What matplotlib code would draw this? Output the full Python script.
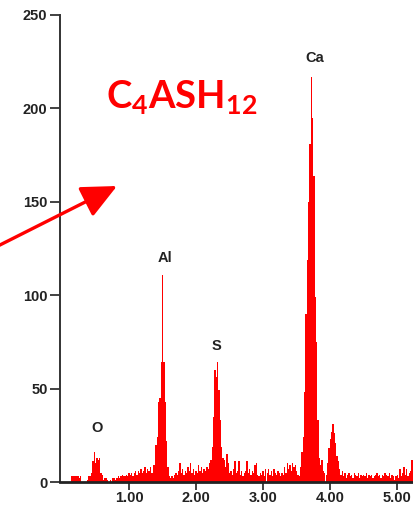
import numpy as np
import matplotlib
matplotlib.use("Agg")
import matplotlib.pyplot as plt

# EDS spectrum: counts per 20 eV channel, first channel centred at 0.14 keV
channel_start = 0.14
channel_width = 0.02
counts = [
    3, 3, 3, 3, 3, 3, 2, 3, 0, 0,
    0, 0, 1, 3, 3, 5, 11, 16, 10, 13,
    12, 13, 5, 4, 1, 2, 2, 1, 0, 1,
    0, 2, 2, 1, 2, 3, 2, 3, 4, 3,
    3, 4, 3, 5, 4, 5, 3, 5, 6, 4,
    6, 5, 7, 5, 6, 8, 5, 7, 6, 8,
    5, 9, 9, 20, 24, 43, 45, 64, 111, 64,
    43, 22, 8, 3, 2, 3, 2, 4, 5, 4,
    6, 10, 5, 7, 4, 6, 5, 8, 6, 10,
    5, 7, 4, 6, 5, 9, 6, 8, 5, 7,
    6, 8, 7, 10, 12, 19, 35, 60, 56, 64,
    49, 33, 19, 13, 12, 8, 15, 10, 5, 6,
    4, 7, 11, 5, 6, 11, 4, 6, 3, 5,
    6, 11, 5, 7, 4, 6, 5, 9, 10, 4,
    3, 5, 4, 6, 3, 7, 5, 7, 4, 6,
    3, 7, 5, 4, 6, 5, 3, 5, 4, 8,
    5, 10, 7, 9, 6, 10, 8, 9, 6, 4,
    3, 8, 16, 24, 48, 90, 119, 150, 181, 217,
    195, 164, 99, 75, 33, 13, 9, 12, 6, 5,
    4, 10, 18, 23, 27, 31, 26, 21, 14, 11,
    7, 4, 6, 3, 5, 2, 4, 5, 3, 4,
    2, 5, 4, 3, 5, 2, 4, 3, 4, 3,
    5, 2, 4, 3, 4, 2, 3, 4, 5, 3,
    4, 2, 4, 3, 5, 4, 3, 5, 2, 4,
    3, 1, 3, 4, 2, 7, 3, 5, 8, 4,
    7, 3, 5, 6, 12, 8,
]
energies = channel_start + channel_width * np.arange(len(counts))

# element line labels (keV position, label height in counts)
element_names = ["O", "Al", "S", "Ca"]
element_kev = [0.52, 1.53, 2.31, 3.77]
element_label_y = [29, 120, 73, 227]

x_ticks = [1.0, 2.0, 3.0, 4.0, 5.0]
x_tick_labels = ["1.00", "2.00", "3.00", "4.00", "5.00"]
y_ticks = [0, 50, 100, 150, 200, 250]

W, H = 414, 508
fig = plt.figure(figsize=(W / 100, H / 100), dpi=100)
ax = fig.add_axes([60 / W, 26 / H, (W - 60) / W, 467 / H])

ax.bar(energies, counts, width=channel_width, color="#ff0000",
       linewidth=0, align="center")

ax.set_xlim(-0.03, 5.25)
ax.set_ylim(0, 250)

for side in ("top", "right"):
    ax.spines[side].set_visible(False)
ax.spines["left"].set_color("#333333")
ax.spines["left"].set_linewidth(1.4)
ax.spines["bottom"].set_color("#222222")
ax.spines["bottom"].set_linewidth(2.0)

tick_font = dict(family="Liberation Sans", weight="bold", size=10.5)
ax.set_xticks(x_ticks)
ax.set_xticklabels(x_tick_labels, fontdict=tick_font, color="#222222")
ax.set_yticks(y_ticks)
ax.set_yticklabels([str(v) for v in y_ticks], fontdict=tick_font,
                   color="#222222")
ax.tick_params(axis="y", direction="out", length=7, width=1.3,
               color="#333333", pad=2)
ax.tick_params(axis="x", direction="out", length=6, width=1.3,
               color="#333333", pad=0.5)

for name, kev, ly in zip(element_names, element_kev, element_label_y):
    ax.text(kev, ly, name, ha="center", va="center", color="#222222",
            family="Liberation Sans", weight="bold", size=10.5)

# phase name and pointer arrow
plt.rcParams["mathtext.fontset"] = "custom"
plt.rcParams["mathtext.bf"] = "Lato:bold"
plt.rcParams["mathtext.rm"] = "Lato:bold"
fig.text(106 / W, 1 - 108 / H, r"$\mathbf{C_4ASH_{12}}$", color="#ff0000",
         size=27.5, ha="left", va="baseline")

fig.add_artist(matplotlib.patches.FancyArrowPatch(
    (-12, H - 251), (117, H - 186), transform=None,
    arrowstyle="-|>,head_length=9,head_width=4.2", mutation_scale=2.4,
    color="#ff0000", linewidth=2.4, shrinkA=0, shrinkB=0))

fig.savefig("out.png", dpi=100)
